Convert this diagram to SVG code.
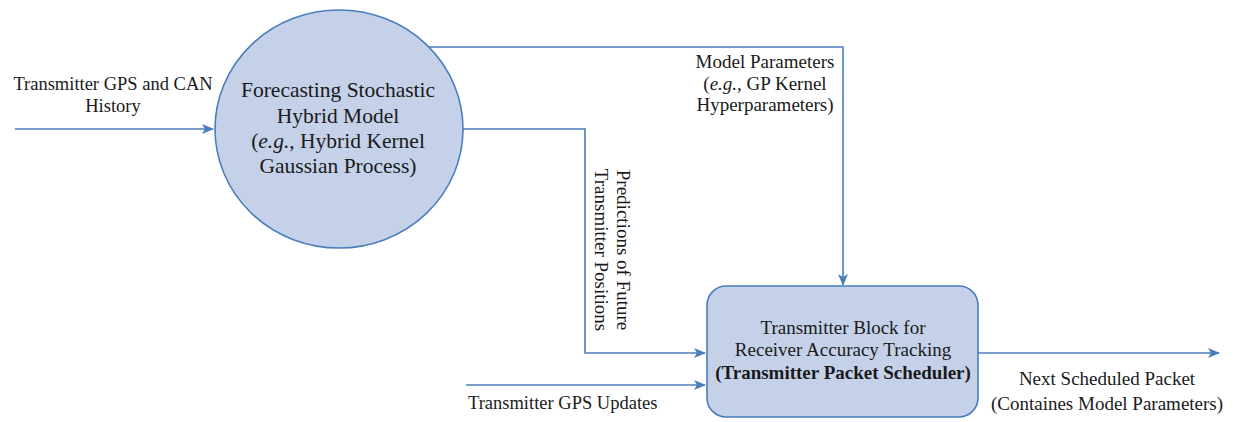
<svg xmlns="http://www.w3.org/2000/svg" width="1234" height="422" viewBox="0 0 1234 422">
<style>
.t{font-family:"Liberation Serif","Times New Roman",serif;fill:#1a1a1a}
.c{stroke:#4a7ebb;stroke-width:1.6;fill:none}
.shape{fill:#c5d1e9;stroke:#4a7ebb;stroke-width:1.6}
.i{font-style:italic}
.b{font-weight:bold}
</style>
<defs>
<marker id="ah" viewBox="0 0 12 10" refX="11" refY="5" markerWidth="12" markerHeight="10" markerUnits="userSpaceOnUse" orient="auto">
<path d="M0,0 L12,5 L0,10 L3,5 Z" fill="#4a7ebb"/>
</marker>
</defs>
<rect width="1234" height="422" fill="#ffffff"/>

<g id="connectors">
<path id="e-history" class="c" d="M15,129 L213,129" marker-end="url(#ah)"/>
<path id="e-params" class="c" d="M429,47 L843,47 L843,285" marker-end="url(#ah)"/>
<path id="e-predictions" class="c" d="M463,129 L585,129 L585,353 L705,353" marker-end="url(#ah)"/>
<path id="e-gps" class="c" d="M466,385 L705,385" marker-end="url(#ah)"/>
<path id="e-out" class="c" d="M978,353 L1219,353" marker-end="url(#ah)"/>
</g>

<g id="labels">
<text class="t" font-size="18.5" text-anchor="middle" x="113" y="90">Transmitter GPS and CAN</text>
<text class="t" font-size="18.5" text-anchor="middle" x="113" y="112">History</text>
<text class="t" font-size="19" text-anchor="middle" x="765" y="68">Model Parameters</text>
<text class="t" font-size="19" text-anchor="middle" x="765" y="90">(<tspan class="i">e.g.,</tspan>  GP Kernel</text>
<text class="t" font-size="19" text-anchor="middle" x="765" y="111">Hyperparameters)</text>
<g transform="translate(0,0)">
<text class="t" font-size="19" text-anchor="middle" transform="translate(617,250) rotate(90)" x="0" y="0">Predictions of Future</text>
<text class="t" font-size="19" text-anchor="middle" transform="translate(595,250) rotate(90)" x="0" y="0">Transmitter Positions</text>
</g>
<text class="t" font-size="18.5" x="468" y="409">Transmitter GPS Updates</text>
<text class="t" font-size="19" text-anchor="middle" x="1107" y="385">Next Scheduled Packet</text>
<text class="t" font-size="19" text-anchor="middle" x="1107" y="410">(Containes Model Parameters)</text>
</g>

<g id="node-forecasting">
<ellipse class="shape" cx="339" cy="129" rx="124" ry="119"/>
<text class="t" font-size="21.5" text-anchor="middle" x="338" y="97">Forecasting Stochastic</text>
<text class="t" font-size="21.5" text-anchor="middle" x="338" y="123">Hybrid Model</text>
<text class="t" font-size="21.5" text-anchor="middle" x="338" y="148">(<tspan class="i">e.g.</tspan>, Hybrid Kernel</text>
<text class="t" font-size="21.5" text-anchor="middle" x="338" y="173">Gaussian Process)</text>
</g>

<g id="node-scheduler">
<rect class="shape" x="707" y="286" width="271" height="131" rx="19" ry="19"/>
<text class="t" font-size="19" text-anchor="middle" x="843" y="334">Transmitter Block for</text>
<text class="t" font-size="19" text-anchor="middle" x="843" y="356">Receiver Accuracy Tracking</text>
<text class="t b" font-size="19" text-anchor="middle" x="843" y="379">(Transmitter Packet Scheduler)</text>
</g>
</svg>
